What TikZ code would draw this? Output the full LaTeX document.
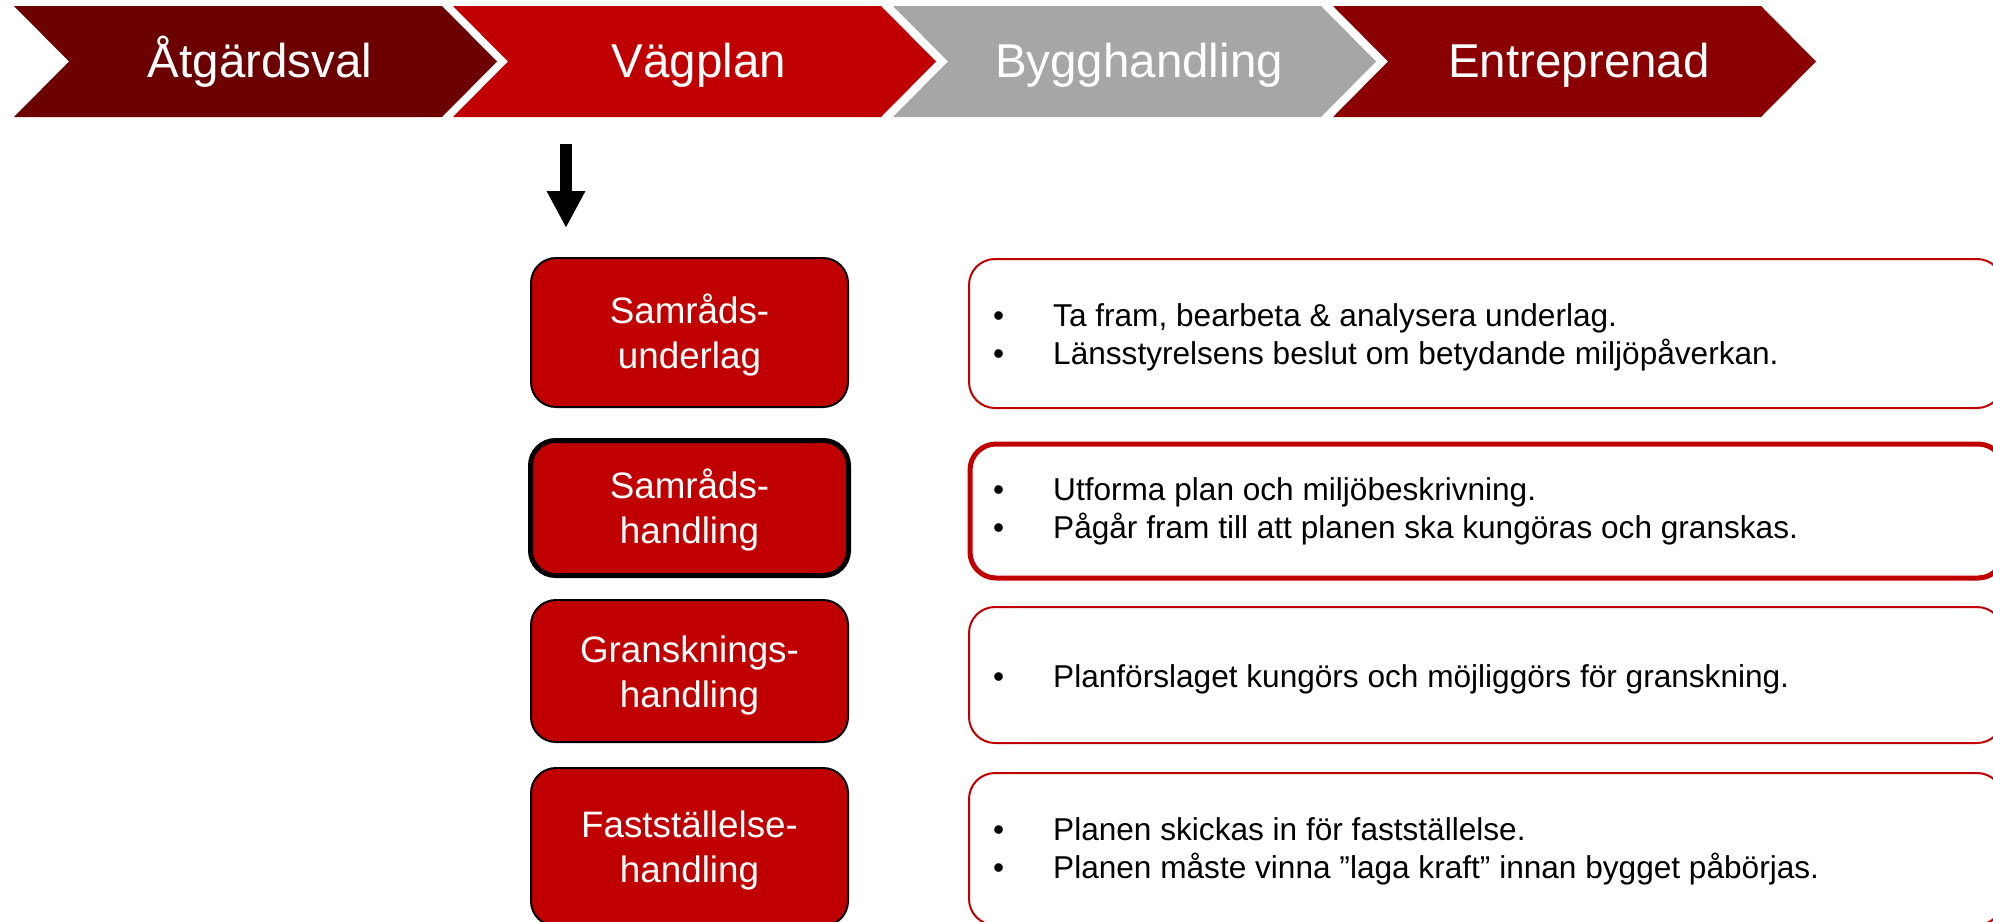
\documentclass[tikz,border=0pt]{standalone}
\usepackage{fontspec}
\setmainfont{Liberation Sans}
\usetikzlibrary{arrows.meta}
\definecolor{chevA}{HTML}{6C0000}
\definecolor{chevB}{HTML}{C00000}
\definecolor{chevC}{HTML}{A6A6A6}
\definecolor{chevD}{HTML}{8A0000}
\definecolor{boxred}{HTML}{C00000}
\newcommand\blt{\makebox[60pt][l]{•}}
\begin{document}
\begin{tikzpicture}[x=1pt,y=-1pt,
  chevtext/.style={text=white, font=\fontsize{47.5}{57}\selectfont, anchor=base, inner sep=0pt},
  lbox/.style={rectangle, draw=black, line width=2pt, fill=boxred, rounded corners=25pt, inner sep=0pt},
  lboxthick/.style={lbox, line width=5pt},
  ltext/.style={text=white, font=\fontsize{36.8}{45}\selectfont, align=center, anchor=base, inner sep=0pt},
  rbox/.style={rectangle, draw=boxred, line width=2pt, fill=white, rounded corners=26pt, inner sep=0pt},
  rboxthick/.style={rbox, line width=5pt},
  rtext/.style={text=black, font=\fontsize{31.6}{38}\selectfont, align=left, anchor=base west, inner sep=0pt}
]
\useasboundingbox (0,0) rectangle (1993,921);

% chevrons
\fill[chevA] (14,6) -- ++(428,0) -- ++(55,55.5) -- ++(-55,55.5) -- ++(-428,0) -- ++(55,-55.5) -- cycle;
\fill[chevB] (453,6) -- ++(428,0) -- ++(55,55.5) -- ++(-55,55.5) -- ++(-428,0) -- ++(55,-55.5) -- cycle;
\fill[chevC] (893,6) -- ++(428,0) -- ++(55,55.5) -- ++(-55,55.5) -- ++(-428,0) -- ++(55,-55.5) -- cycle;
\fill[chevD] (1333,6) -- ++(428,0) -- ++(55,55.5) -- ++(-55,55.5) -- ++(-428,0) -- ++(55,-55.5) -- cycle;
\node[chevtext] (c1) at (260,77) {Åtgärdsval};
\node[chevtext] (c2) at (699,77) {Vägplan};
\node[chevtext] (c3) at (1139,77) {Bygghandling};
\node[chevtext] (c4) at (1579,77) {Entreprenad};

% arrow
\coordinate (arrtop) at (566,144);
\coordinate (arrtip) at (566,228);
\draw[line width=12pt, -{Triangle[width=36pt,length=37pt]}] (arrtop) -- (arrtip);

% left boxes
\node[lbox, minimum width=317pt, minimum height=149pt] (b1) at (689.5,332.5) {};
\node[lboxthick, minimum width=318pt, minimum height=135pt] (b2) at (689.5,508) {};
\node[lbox, minimum width=317pt, minimum height=142pt] (b3) at (689.5,671) {};
\node[lbox, minimum width=317pt, minimum height=158pt] (b4) at (689.5,847) {};
\node[ltext] (t1) at (689.5,368) {Samråds-\\underlag};
\node[ltext] (t2) at (689.5,543) {Samråds-\\handling};
\node[ltext] (t3) at (689.5,707) {Gransknings-\\handling};
\node[ltext] (t4) at (689.5,882) {Fastställelse-\\handling};

% right boxes
\node[rbox, minimum width=1034pt, minimum height=149pt, anchor=north west] (r1) at (968,258) {};
\node[rboxthick, minimum width=1034pt, minimum height=134pt, anchor=north west] (r2) at (967.5,441.5) {};
\node[rbox, minimum width=1034pt, minimum height=136pt, anchor=north west] (r3) at (968,606) {};
\node[rbox, minimum width=1034pt, minimum height=152pt, anchor=north west] (r4) at (968,772) {};
\node[rtext] (d1) at (993,364) {\blt Ta fram, bearbeta \& analysera underlag.\\\blt Länsstyrelsens beslut om betydande miljöpåverkan.};
\node[rtext] (d2) at (993,538) {\blt Utforma plan och miljöbeskrivning.\\\blt Pågår fram till att planen ska kungöras och granskas.};
\node[rtext] (d3) at (993,687) {\blt Planförslaget kungörs och möjliggörs för granskning.};
\node[rtext] (d4) at (993,878) {\blt Planen skickas in för fastställelse.\\\blt Planen måste vinna ”laga kraft” innan bygget påbörjas.};
\end{tikzpicture}
\end{document}
